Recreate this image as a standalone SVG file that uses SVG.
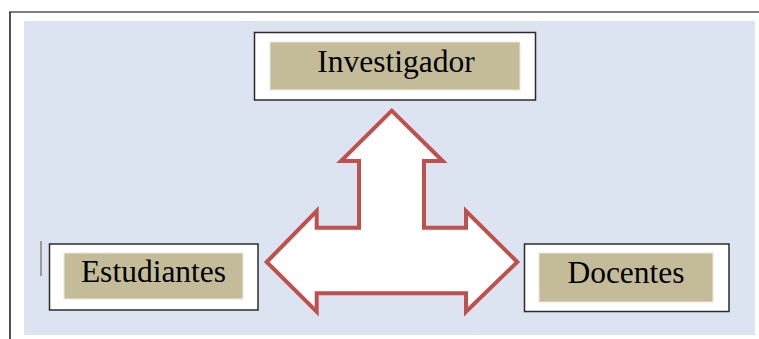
<svg xmlns="http://www.w3.org/2000/svg" width="759" height="339" viewBox="0 0 759 339">
  <style>
    .frame { fill: #ffffff; stroke: #2b2b2b; stroke-width: 1.5; }
    .label-bg { fill: #c4bc98; stroke: #ece8da; stroke-width: 1; }
    .label { font-family: "Liberation Serif", "Times New Roman", serif; font-size: 31.5px; fill: #000000; text-anchor: middle; }
    .arrow { fill: #ffffff; stroke: #c0504d; stroke-width: 4; stroke-linejoin: miter; }
  </style>

  <!-- page background and edges -->
  <rect x="0" y="0" width="759" height="339" fill="#ffffff"/>
  <line x1="9" y1="12" x2="759" y2="12" stroke="#808080" stroke-width="2"/>
  <line x1="10" y1="12" x2="10" y2="339" stroke="#1a1a1a" stroke-width="1.5"/>
  <rect x="24" y="21" width="731" height="314" fill="#dbe4f0"/>
  <line x1="41" y1="241" x2="41" y2="276" stroke="#808080" stroke-width="1.5"/>

  <!-- connectors: three-way block arrow -->
  <g id="connectors">
    <path class="arrow" d="M391.7,110.7 L442.7,161 L424,161 L424,227.7 L466,227.7 L466,211 L517.3,262 L466,311.7 L466,293.3 L316.7,293.3 L316.7,311.7 L266.7,262 L316.7,211 L316.7,227.7 L359,227.7 L359,161 L341,161 Z"/>
  </g>

  <g id="investigador">
    <rect class="frame" x="254.5" y="32.5" width="281" height="67.5"/>
    <rect class="label-bg" x="270" y="42" width="250" height="48"/>
    <text class="label" x="396" y="72">Investigador</text>
  </g>

  <g id="estudiantes">
    <rect class="frame" x="49.5" y="244" width="208.5" height="66"/>
    <rect class="label-bg" x="64" y="253" width="179" height="46"/>
    <text class="label" x="153.5" y="282">Estudiantes</text>
  </g>

  <g id="docentes">
    <rect class="frame" x="524.5" y="244" width="204.5" height="67.5"/>
    <rect class="label-bg" x="539" y="253" width="174" height="49"/>
    <text class="label" x="626" y="283">Docentes</text>
  </g>
</svg>
